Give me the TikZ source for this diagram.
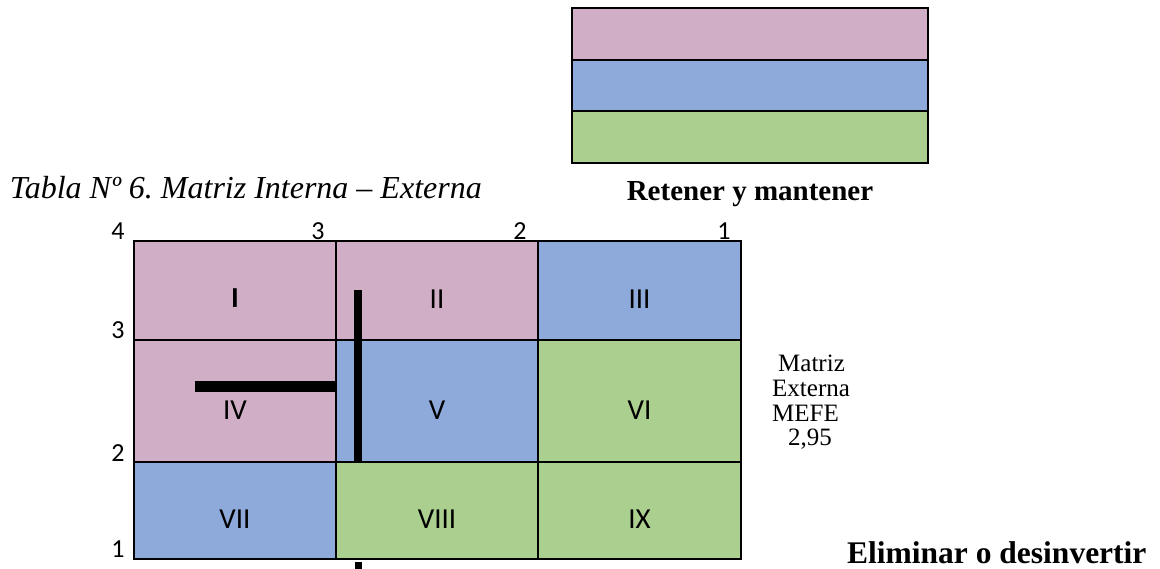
\documentclass[tikz,border=0pt]{standalone}
\usepackage{fontspec}
\setmainfont{Liberation Serif}
\newfontfamily\calib{Carlito}
\definecolor{rosa}{HTML}{D0AFC6}
\definecolor{azul}{HTML}{8EAADB}
\definecolor{verde}{HTML}{AACF8E}
\frenchspacing
\begin{document}
\begin{tikzpicture}[x=1pt,y=-1pt,
  cell/.style={draw=black, line width=2pt, inner sep=0pt, outer sep=0pt},
  roman/.style={font=\calib\fontsize{29}{32}\selectfont, inner sep=0pt},
  axisnum/.style={font=\calib\fontsize{26}{29}\selectfont, inner sep=0pt},
  serif/.style={font=\fontsize{25}{28}\selectfont, inner sep=0pt},
  boldlabel/.style={font=\bfseries\fontsize{29}{32}\selectfont, inner sep=0pt},
  bar/.style={fill=black, draw=none}
]
\useasboundingbox (0,0) rectangle (1160,569);

% legend colour strips
\node[cell, fill=rosa,  minimum width=356pt, minimum height=52pt] (leg1) at (750,34) {};
\node[cell, fill=azul,  minimum width=356pt, minimum height=51pt] (leg2) at (750,85.5) {};
\node[cell, fill=verde, minimum width=356pt, minimum height=52pt] (leg3) at (750,137) {};

% title and strategy labels
\node[font=\itshape\fontsize{32}{36}\selectfont, inner sep=0pt, anchor=base east] (title) at (482,199)
  {Tabla Nº 6. Matriz Interna – Externa};
\node[boldlabel, anchor=base] (retener) at (750,201) {Retener y mantener};
\node[boldlabel, font=\bfseries\fontsize{31.5}{35}\selectfont, anchor=base west] (eliminar) at (847,563) {Eliminar o desinvertir};

% internal-external matrix cells
\node[cell, fill=rosa,  minimum width=202pt, minimum height=99pt]  (c1) at (235,290.5) {};
\node[cell, fill=rosa,  minimum width=202pt, minimum height=99pt]  (c2) at (437,290.5) {};
\node[cell, fill=azul,  minimum width=203pt, minimum height=99pt]  (c3) at (639.5,290.5) {};
\node[cell, fill=rosa,  minimum width=202pt, minimum height=122pt] (c4) at (235,401) {};
\node[cell, fill=azul,  minimum width=202pt, minimum height=122pt] (c5) at (437,401) {};
\node[cell, fill=verde, minimum width=203pt, minimum height=122pt] (c6) at (639.5,401) {};
\node[cell, fill=azul,  minimum width=202pt, minimum height=97pt]  (c7) at (235,510.5) {};
\node[cell, fill=verde, minimum width=202pt, minimum height=97pt]  (c8) at (437,510.5) {};
\node[cell, fill=verde, minimum width=203pt, minimum height=97pt]  (c9) at (639.5,510.5) {};

% quadrant numerals
\node[roman] (l1) at ([yshift=-8pt]c1.center) {\textbf{I}};
\node[roman] (l2) at ([yshift=-9pt]c2.center) {II};
\node[roman] (l3) at ([yshift=-9pt]c3.center) {III};
\node[roman] (l4) at ([yshift=-9pt]c4.center) {IV};
\node[roman] (l5) at ([yshift=-9pt]c5.center) {V};
\node[roman] (l6) at ([yshift=-9pt]c6.center) {VI};
\node[roman] (l7) at ([yshift=-9pt]c7.center) {VII};
\node[roman] (l8) at ([yshift=-9pt]c8.center) {VIII};
\node[roman] (l9) at ([yshift=-9pt]c9.center) {IX};

% axis scale
\node[axisnum] (t4) at (118,231) {4};
\node[axisnum] (t3) at (318,231) {3};
\node[axisnum] (t2) at (520,231) {2};
\node[axisnum] (t1) at (724,231) {1};
\node[axisnum] (s3) at (118,330) {3};
\node[axisnum] (s2) at (118,453) {2};
\node[axisnum] (s1) at (118,549) {1};

% position markers
\fill[bar] (354,290) rectangle (362,462);
\fill[bar] (195,381) rectangle (336,392);
\fill[bar] (355,562) rectangle (362,569);

% external matrix score
\node[serif, anchor=base west] (m1) at (778,372) {Matriz};
\node[serif, anchor=base west] (m2) at (772,397) {Externa};
\node[serif, anchor=base west] (m3) at (772,421) {MEFE};
\node[serif, anchor=base west] (m4) at (788,446) {2,95};
\end{tikzpicture}
\end{document}
